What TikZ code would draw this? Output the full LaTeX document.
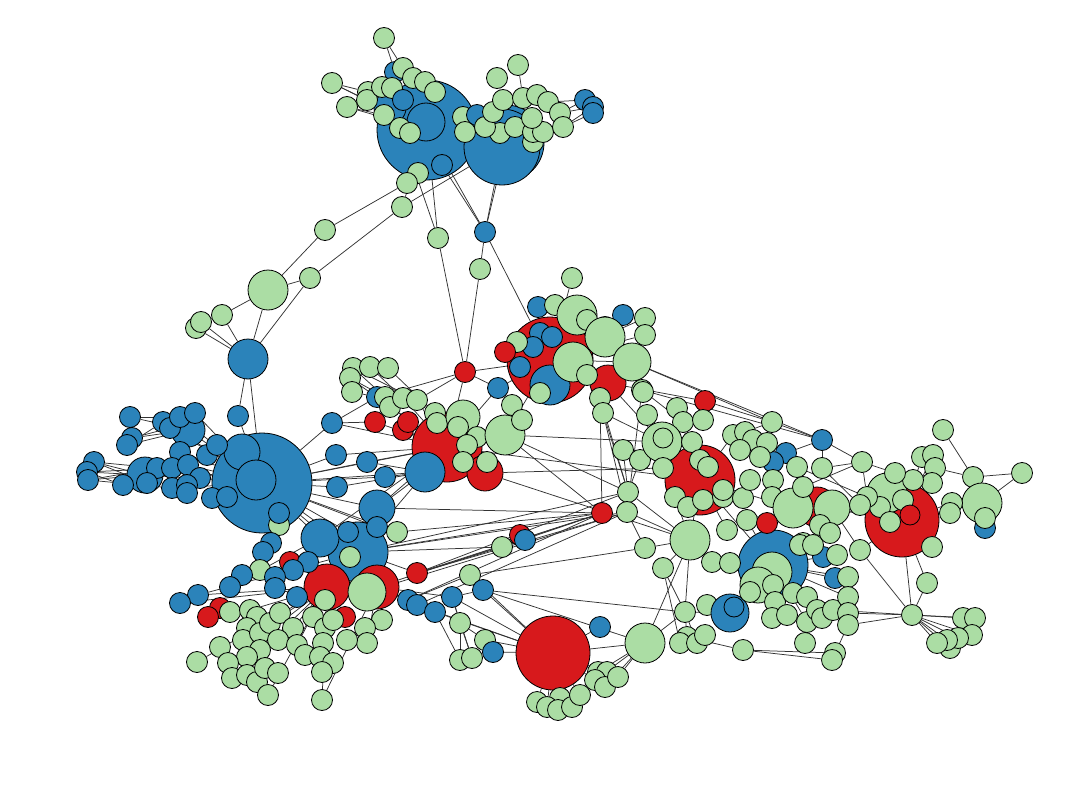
\documentclass[tikz,border=0pt]{standalone}
\usetikzlibrary{backgrounds}
\definecolor{cb}{HTML}{2B83BA}
\definecolor{cr}{HTML}{D7191C}
\definecolor{cg}{HTML}{ABDDA4}
\newcommand\Vtx[5]{\node[nd,fill=#5,minimum size=#4pt] (#1) at (#2,#3) {};}
\newcommand\vtx[4]{\node[nd,fill=#4,minimum size=21pt] (#1) at (#2,#3) {};}
\tikzset{nd/.style={circle,draw=black,line width=0.8pt,inner sep=0pt},
ed/.style={draw=black!80,line width=0.75pt}}
\begin{document}
\begin{tikzpicture}[x=1pt,y=-1pt]
\useasboundingbox (0,0) rectangle (1074,792);
% big nodes
\Vtx{A}{427}{130}{100}{cb}
\Vtx{Ai}{426}{122}{38}{cb}
\Vtx{B2}{506}{143}{76}{cb}
\Vtx{B1}{502}{147}{76}{cb}
\Vtx{C}{262}{483}{100}{cb}
\Vtx{Ci1}{242}{452}{36}{cb}
\Vtx{Ci2}{256}{480}{40}{cb}
\Vtx{E}{550}{360}{86}{cr}
\Vtx{F}{447}{447}{70}{cr}
\Vtx{G}{553}{653}{74}{cr}
\Vtx{H}{700}{480}{70}{cr}
\Vtx{I}{773}{565}{70}{cb}
\Vtx{J}{902}{520}{74}{cr}
% top cluster
\Vtx{tm}{390}{108}{32}{cb}
\vtx{t1}{384}{38}{cg}
\vtx{t2}{332}{83}{cg}
\vtx{t3}{347}{107}{cg}
\vtx{t4}{395}{72}{cb}
\vtx{t5}{403}{68}{cg}
\vtx{t6}{413}{78}{cg}
\vtx{t7}{425}{82}{cg}
\vtx{t9}{368}{92}{cg}
\vtx{t10}{367}{100}{cg}
\vtx{t11}{382}{87}{cg}
\vtx{t12}{392}{88}{cg}
\vtx{t8}{435}{92}{cg}
\vtx{t13}{403}{100}{cb}
\vtx{t14}{384}{115}{cg}
\vtx{t15}{400}{128}{cg}
\vtx{t16}{410}{133}{cg}
\vtx{t17}{442}{165}{cb}
\vtx{t18}{418}{173}{cg}
\vtx{t19}{407}{183}{cg}
\vtx{t20}{402}{207}{cg}
\vtx{t21}{325}{230}{cg}
\vtx{t22}{438}{238}{cg}
\vtx{t23}{485}{232}{cb}
\vtx{t24}{497}{78}{cg}
\vtx{t25}{518}{65}{cg}
\vtx{t26}{463}{117}{cg}
\vtx{t27}{465}{132}{cg}
\vtx{t28}{477}{115}{cb}
\vtx{t42}{533}{142}{cg}
\vtx{t40}{500}{133}{cg}
\vtx{t41}{485}{127}{cg}
\vtx{t39}{515}{127}{cg}
\vtx{t37}{533}{132}{cg}
\vtx{t36}{543}{132}{cg}
\vtx{t29}{493}{112}{cg}
\vtx{t30}{503}{100}{cg}
\vtx{t31}{523}{98}{cg}
\vtx{t32}{537}{95}{cg}
\vtx{t33}{548}{102}{cg}
\vtx{t38}{532}{118}{cg}
\vtx{t34}{560}{113}{cg}
\vtx{t35}{563}{127}{cg}
\vtx{t43}{585}{100}{cb}
\vtx{t44}{593}{107}{cb}
\vtx{t45}{593}{113}{cb}
% upper left
\Vtx{u1}{268}{290}{40}{cg}
\vtx{u3}{310}{278}{cg}
\vtx{u4}{222}{315}{cg}
\vtx{u6}{196}{328}{cg}
\vtx{u5}{201}{322}{cg}
\Vtx{u7}{248}{359}{40}{cb}
\vtx{u8}{238}{416}{cb}
\vtx{u9}{480}{269}{cg}
% left blue cluster
\Vtx{l6}{188}{430}{34}{cb}
\Vtx{l15}{145}{475}{36}{cb}
\vtx{l1}{130}{417}{cb}
\vtx{l2}{163}{422}{cb}
\vtx{l3}{170}{428}{cb}
\vtx{l4}{180}{417}{cb}
\vtx{l5}{195}{413}{cb}
\vtx{l7}{132}{438}{cb}
\vtx{l8}{127}{445}{cb}
\vtx{l9}{180}{452}{cb}
\vtx{l10}{207}{455}{cb}
\vtx{l11}{217}{445}{cb}
\vtx{l12}{94}{462}{cb}
\vtx{l13}{87}{472}{cb}
\vtx{l14}{88}{480}{cb}
\vtx{l16}{157}{468}{cb}
\vtx{l17}{172}{468}{cb}
\vtx{l18}{188}{465}{cb}
\vtx{l19}{200}{478}{cb}
\vtx{l22}{172}{488}{cb}
\vtx{l23}{147}{483}{cb}
\vtx{l24}{123}{485}{cb}
\vtx{l20}{187}{485}{cb}
\vtx{l21}{187}{493}{cb}
\vtx{l25}{212}{498}{cb}
\vtx{l26}{227}{497}{cb}
\vtx{l27}{279}{525}{cg}
\vtx{l28}{279}{513}{cb}
\vtx{l29}{271}{543}{cb}
\vtx{l30}{263}{552}{cb}
\vtx{l31}{332}{423}{cb}
\vtx{l32}{336}{455}{cb}
\vtx{l33}{337}{487}{cb}
% bottom left
\Vtx{m2}{358}{552}{60}{cb}
\Vtx{m1}{320}{538}{38}{cb}
\Vtx{m3}{377}{508}{36}{cb}
\vtx{m4}{348}{532}{cb}
\vtx{m5}{377}{527}{cb}
\vtx{m6}{397}{532}{cg}
\Vtx{m14}{327}{587}{46}{cr}
\Vtx{m15}{377}{587}{44}{cr}
\Vtx{m16}{367}{592}{38}{cg}
\vtx{m7}{290}{562}{cr}
\vtx{m8}{308}{562}{cb}
\vtx{m9}{293}{570}{cb}
\vtx{m10}{350}{557}{cg}
\vtx{m11}{260}{570}{cg}
\vtx{m12}{242}{575}{cb}
\vtx{m13}{275}{577}{cb}
\vtx{m17}{417}{573}{cr}
\vtx{m18}{230}{587}{cb}
\vtx{m19}{198}{595}{cb}
\vtx{m20}{180}{603}{cb}
\vtx{m21}{220}{608}{cr}
\vtx{m22}{208}{617}{cr}
\vtx{m23}{297}{597}{cb}
\vtx{m24}{275}{588}{cb}
\vtx{m25}{230}{612}{cg}
\vtx{m26}{325}{600}{cg}
\vtx{m27}{345}{617}{cr}
\vtx{m28}{408}{600}{cb}
\vtx{m29}{417}{605}{cb}
\vtx{m30}{435}{612}{cb}
\vtx{m31}{452}{597}{cb}
\vtx{m32}{382}{620}{cg}
\vtx{m33}{365}{628}{cg}
\vtx{m34}{367}{643}{cg}
\vtx{m35}{250}{610}{cg}
\vtx{m36}{257}{617}{cg}
\vtx{m37}{247}{628}{cg}
\vtx{m38}{243}{640}{cg}
\vtx{m39}{220}{647}{cg}
\vtx{m40}{260}{633}{cg}
\vtx{m41}{270}{623}{cg}
\vtx{m42}{280}{613}{cg}
\vtx{m43}{293}{628}{cg}
\vtx{m44}{278}{640}{cg}
\vtx{m45}{260}{650}{cg}
\vtx{m46}{247}{657}{cg}
\vtx{m47}{228}{663}{cg}
\vtx{m48}{197}{662}{cg}
\vtx{m49}{232}{678}{cg}
\vtx{m50}{247}{675}{cg}
\vtx{m51}{257}{682}{cg}
\vtx{m52}{265}{668}{cg}
\vtx{m53}{278}{673}{cg}
\vtx{m54}{268}{695}{cg}
\vtx{m55}{297}{645}{cg}
\vtx{m56}{313}{617}{cg}
\vtx{m57}{325}{628}{cg}
\vtx{m58}{323}{643}{cg}
\vtx{m65}{305}{655}{cg}
\vtx{m59}{320}{657}{cg}
\vtx{m60}{333}{663}{cg}
\vtx{m61}{322}{672}{cg}
\vtx{m62}{322}{700}{cg}
\vtx{m63}{347}{640}{cg}
\vtx{m64}{333}{620}{cg}
% center
\vtx{c1}{572}{278}{cg}
\vtx{c2}{538}{307}{cb}
\vtx{c3}{555}{305}{cg}
\Vtx{c4}{577}{315}{40}{cg}
\vtx{c5}{623}{315}{cb}
\vtx{c6}{587}{320}{cg}
\vtx{c7}{605}{327}{cg}
\Vtx{c8}{605}{337}{40}{cg}
\vtx{c9}{540}{333}{cb}
\vtx{c10}{552}{337}{cb}
\vtx{c11}{533}{347}{cb}
\vtx{c12}{517}{342}{cg}
\vtx{c13}{505}{352}{cr}
\vtx{c14}{520}{367}{cb}
\Vtx{c15}{550}{385}{40}{cb}
\vtx{c16}{540}{393}{cg}
\Vtx{c20}{608}{383}{36}{cr}
\Vtx{c17}{573}{362}{40}{cg}
\vtx{c18}{587}{375}{cg}
\Vtx{c19}{632}{362}{38}{cg}
\vtx{c21}{645}{318}{cg}
\vtx{c22}{645}{335}{cg}
\vtx{c23}{642}{390}{cg}
\vtx{c24}{600}{398}{cg}
\vtx{c25}{603}{413}{cg}
\vtx{c26}{465}{372}{cr}
\vtx{c27}{498}{388}{cb}
\vtx{c28}{353}{368}{cg}
\vtx{c29}{370}{367}{cg}
\vtx{c30}{388}{368}{cg}
\vtx{c31}{350}{378}{cg}
\vtx{c32}{352}{392}{cg}
\vtx{c33}{377}{397}{cb}
\vtx{c34}{385}{397}{cg}
\vtx{c35}{390}{407}{cg}
\vtx{c36}{403}{398}{cg}
\vtx{c37}{417}{400}{cg}
\vtx{c38}{375}{422}{cr}
\vtx{c39}{403}{430}{cr}
\vtx{c40}{408}{422}{cr}
\vtx{c41}{435}{413}{cg}
\vtx{c42}{437}{423}{cg}
\Vtx{c43}{463}{417}{34}{cg}
\vtx{c44}{458}{427}{cg}
\vtx{c45}{477}{437}{cg}
\vtx{c46}{467}{445}{cg}
\Vtx{c47}{505}{435}{40}{cg}
\vtx{c48}{512}{405}{cg}
\vtx{c49}{522}{420}{cg}
\Vtx{c51}{485}{473}{36}{cr}
\Vtx{c50}{425}{472}{40}{cb}
\vtx{c52}{463}{462}{cg}
\vtx{c53}{487}{462}{cg}
\vtx{c55}{367}{462}{cb}
\vtx{c56}{385}{477}{cb}
\vtx{c57}{623}{450}{cg}
\vtx{c58}{640}{460}{cg}
\vtx{c59}{628}{492}{cg}
% bottom center
\vtx{b1}{602}{513}{cr}
\vtx{b2}{627}{512}{cg}
\vtx{b3}{520}{535}{cr}
\vtx{b4}{525}{540}{cb}
\vtx{b5}{502}{547}{cg}
\vtx{b6}{470}{575}{cg}
\vtx{b7}{483}{590}{cb}
\vtx{b9}{460}{623}{cg}
\vtx{b10}{485}{640}{cg}
\vtx{b11}{493}{652}{cb}
\vtx{b12}{460}{660}{cg}
\vtx{b13}{472}{658}{cg}
\vtx{b14}{600}{627}{cb}
\Vtx{b15}{645}{643}{40}{cg}
\vtx{b16}{598}{672}{cg}
\vtx{b17}{607}{672}{cg}
\vtx{b18}{595}{680}{cg}
\vtx{b19}{605}{687}{cg}
\vtx{b20}{618}{677}{cg}
\vtx{b21}{537}{702}{cg}
\vtx{b26}{560}{698}{cg}
\vtx{b22}{547}{707}{cg}
\vtx{b23}{558}{710}{cg}
\vtx{b24}{572}{707}{cg}
\vtx{b25}{580}{695}{cg}
\vtx{b27}{645}{548}{cg}
\Vtx{b28}{690}{540}{40}{cg}
\vtx{b29}{663}{568}{cg}
\vtx{b30}{685}{612}{cg}
\vtx{b32}{707}{605}{cg}
\Vtx{b33}{730}{613}{38}{cb}
\Vtx{b34}{734}{607}{20}{cb}
\vtx{b35}{687}{637}{cg}
\vtx{b37}{680}{643}{cg}
\vtx{b36}{697}{643}{cg}
\vtx{b38}{705}{635}{cg}
\vtx{b39}{675}{497}{cg}
\vtx{b40}{688}{507}{cg}
\vtx{b41}{703}{500}{cg}
\vtx{b42}{723}{497}{cg}
\vtx{b43}{727}{530}{cg}
\vtx{b44}{712}{562}{cg}
\vtx{b45}{730}{563}{cg}
\vtx{b46}{743}{650}{cg}
% right center
\vtx{h1}{705}{401}{cr}
\vtx{h2}{643}{392}{cg}
\vtx{h4}{647}{415}{cg}
\vtx{h5}{677}{408}{cg}
\vtx{h6}{683}{422}{cg}
\vtx{h7}{703}{420}{cg}
\Vtx{h8}{662}{442}{40}{cg}
\Vtx{h9}{663}{438}{20}{cg}
\vtx{h11}{663}{468}{cg}
\vtx{h12}{692}{442}{cg}
\vtx{h13}{772}{422}{cg}
\vtx{h14}{822}{440}{cb}
\vtx{h21}{786}{453}{cb}
\vtx{h22}{773}{462}{cb}
\vtx{h15}{733}{435}{cg}
\vtx{h16}{745}{432}{cg}
\vtx{h17}{753}{440}{cg}
\vtx{h18}{767}{443}{cg}
\vtx{h19}{740}{450}{cg}
\vtx{h20}{760}{457}{cg}
\vtx{h23}{797}{467}{cg}
\vtx{h24}{822}{468}{cg}
\vtx{h25}{862}{462}{cg}
\vtx{h26}{700}{460}{cg}
\vtx{h27}{708}{467}{cg}
\vtx{h28}{723}{490}{cg}
\vtx{h30}{743}{498}{cg}
\vtx{h31}{750}{480}{cg}
\vtx{h32}{747}{520}{cg}
\vtx{h33}{773}{480}{cg}
\vtx{h34}{772}{497}{cg}
\Vtx{h38}{817}{507}{40}{cr}
\Vtx{h35}{793}{508}{40}{cg}
\vtx{h36}{767}{523}{cr}
\vtx{h37}{803}{487}{cg}
\Vtx{h39}{832}{508}{36}{cg}
\vtx{h40}{820}{525}{cg}
\vtx{h41}{803}{543}{cg}
\vtx{h42}{830}{533}{cg}
\Vtx{h43}{772}{572}{40}{cg}
\Vtx{h43b}{758}{585}{36}{cg}
\vtx{h44}{750}{592}{cg}
\vtx{h45}{773}{585}{cg}
\vtx{h46}{823}{557}{cb}
\vtx{h47}{835}{578}{cb}
\vtx{h48}{837}{555}{cg}
\vtx{h49}{848}{577}{cg}
\vtx{h50}{775}{602}{cg}
\vtx{h51}{793}{593}{cg}
\vtx{h52}{807}{597}{cg}
\vtx{h58}{772}{618}{cg}
\vtx{h59}{787}{615}{cg}
\vtx{h60}{807}{622}{cg}
\vtx{h53}{817}{610}{cg}
\vtx{h61}{822}{618}{cg}
\vtx{h54}{833}{610}{cg}
\vtx{h55}{848}{597}{cg}
\vtx{h56}{848}{613}{cg}
\vtx{h63}{848}{625}{cg}
\vtx{h64}{860}{550}{cg}
\vtx{h65}{800}{545}{cg}
\vtx{h66}{813}{545}{cg}
\vtx{h67}{805}{643}{cg}
\vtx{h69}{835}{653}{cg}
\vtx{h68}{832}{660}{cg}
% far right
\vtx{j1}{943}{430}{cg}
\Vtx{j31}{887}{493}{40}{cg}
\vtx{j3}{922}{457}{cg}
\vtx{j4}{933}{455}{cg}
\vtx{j5}{935}{468}{cg}
\vtx{j6}{932}{483}{cg}
\vtx{j7}{913}{480}{cg}
\vtx{j8}{895}{473}{cg}
\vtx{j9}{973}{477}{cg}
\vtx{j10}{1022}{473}{cg}
\vtx{j12}{985}{528}{cb}
\Vtx{j11}{982}{503}{40}{cg}
\vtx{j13}{985}{518}{cg}
\vtx{j14}{952}{503}{cg}
\vtx{j15}{950}{513}{cg}
\vtx{j18}{880}{507}{cg}
\vtx{j19}{867}{497}{cg}
\vtx{j20}{860}{505}{cg}
\vtx{j17}{903}{500}{cg}
\Vtx{j32}{910}{515}{20}{cr}
\vtx{j16}{890}{522}{cg}
\vtx{j21}{932}{547}{cg}
\vtx{j22}{927}{583}{cg}
\vtx{j23}{912}{615}{cg}
\vtx{j24}{963}{618}{cg}
\vtx{j25}{975}{618}{cg}
\vtx{j26}{972}{635}{cg}
\vtx{j30}{950}{648}{cg}
\vtx{j27}{958}{638}{cg}
\vtx{j28}{947}{640}{cg}
\vtx{j29}{937}{643}{cg}
% edges
\begin{pgfonlayer}{background}
\fill[white] (0,0) rectangle (1074,792);
\foreach \a/\b in {t1/t5,t1/t4,t2/t9,t2/t10,t2/A,t3/t10,t3/A,t3/t14,A/t18,A/t19,A/t22,t15/t22,A/t23,t17/t23,B1/t23,B2/t23,t19/t21,t20/u3,t20/A,B1/t20,t21/u1,t22/c26,t23/u9,t23/E,u9/c26,t25/t31,t24/t30,t43/t34,t44/t35,t45/t35,t43/t33,t44/t34,
u1/u3,u1/u4,u4/u7,u5/u7,u6/u7,u1/u7,u3/u7,u7/u8,u7/C,u8/C,u5/u4,
l1/l6,l7/l6,l8/l6,l1/l4,l7/l3,l8/l2,l12/l15,l13/l15,l14/l15,l12/l16,l13/l17,l14/l16,l12/l23,l13/l24,l14/l22,l6/C,l2/C,l3/C,l5/C,l9/C,l10/C,l11/C,l18/C,l19/C,l22/C,l15/C,l16/C,l4/C,l17/C,
C/l31,C/l32,C/l33,C/m1,C/m2,C/m3,C/c50,C/l27,C/l28,C/l29,C/F,C/c56,C/c55,C/m4,C/m5,C/m10,C/m6,
m2/m17,m2/m16,m14/m35,m14/m41,m14/m43,m15/m32,m15/m28,m15/m29,m15/m30,m15/m31,m17/b1,m17/b2,m17/c59,m2/b1,m2/c59,m2/b5,m3/c50,m3/F,m1/F,m2/F,m15/b1,m16/b2,m6/b1,m28/b1,m29/b2,m3/b1,m2/b2,
m31/G,m30/G,m29/G,m28/b6,m31/b7,m31/b9,m14/m20,m14/m19,m2/m19,m1/m18,m14/m48,m14/m54,m14/m62,m15/m62,m14/m47,m14/m49,m15/m34,m14/m55,
b6/b27,b7/b30,b5/b1,b5/b3,m17/b4,b9/b10,b10/G,b11/G,b12/b9,b13/b9,m30/b12,m31/b13,b7/G,b6/G,
G/b15,G/b14,G/b16,G/b17,G/b18,G/b21,G/b22,G/b23,G/b24,G/b25,G/b26,b15/b30,b15/b28,b15/b16,b15/b20,b15/b19,b15/b18,
b28/b30,b28/b27,b28/b29,b28/b2,b28/H,b28/b39,b27/b2,b30/b33,b30/b35,b32/b33,b33/I,b35/b46,b46/h68,b46/h69,b35/b38,b29/b30,b29/b37,b30/b36,b7/b15,
c26/E,c26/c33,c26/c27,c26/F,c26/c37,c33/l31,c27/E,c27/F,E/c1,E/c4,E/c5,E/c19,E/c22,E/c21,c19/h2,c19/h13,c19/h14,c23/h14,h1/h13,c20/h1,
F/c47,F/c43,F/c51,F/c50,F/c38,F/c39,c47/E,c47/h8,c51/h11,c47/b1,F/H,c47/c59,c51/b28,
c24/c59,c25/c59,c25/h8,c57/c59,c58/c59,c59/b2,c59/b28,c20/h8,c23/h6,c25/b2,c24/b1,c23/b2,
c28/c37,c29/c36,c30/c41,c31/c34,c32/c33,c35/F,c36/F,c37/F,c33/F,c38/l31,c40/F,c39/F,l31/F,l32/F,l33/c50,c55/c50,c56/c50,c55/F,c28/c34,c31/c35,
H/h5,H/h8,H/h12,H/h15,H/h26,H/h28,H/b39,H/b40,H/b41,H/b42,H/b43,H/h36,H/h35,H/I,h13/h14,h13/h18,h14/h24,h14/h21,h24/h25,h25/j8,h25/j19,h23/j19,h35/h38,h38/J,h39/J,h39/h64,h64/J,h37/h25,h14/h25,h24/j20,h16/h13,
I/h44,I/h46,I/h47,I/h49,I/h51,I/h55,I/b45,I/b44,I/h32,I/h36,I/h58,I/h60,I/h63,I/h65,I/h66,
J/j3,J/j4,J/j6,J/j7,J/j8,J/j14,J/j15,J/j11,J/j21,J/j22,J/j23,J/j16,j1/j9,j9/j10,j9/j11,j10/j11,j11/j12,j9/j5,
j23/h56,j23/h54,j23/h63,j23/j24,j23/j25,j23/j26,j23/j27,j23/j28,j23/j29,j23/j30,j22/j23,h67/h60,h68/h63,h64/j23}
  \draw[ed] (\a) -- (\b);
\end{pgfonlayer}
\end{tikzpicture}
\end{document}
